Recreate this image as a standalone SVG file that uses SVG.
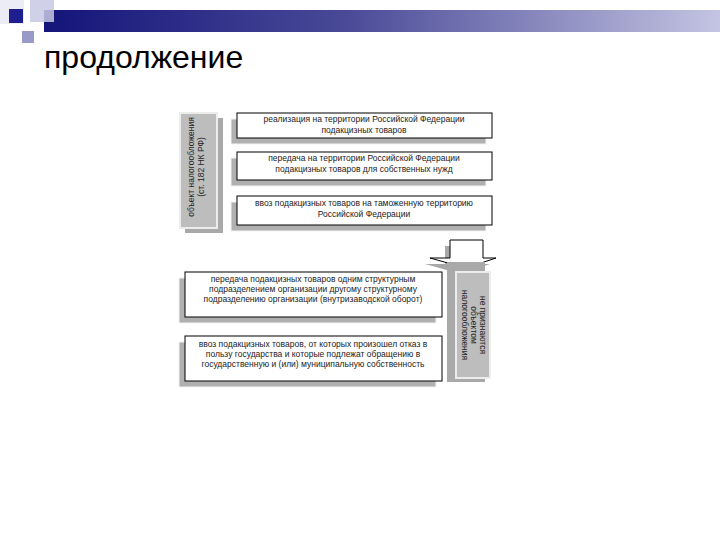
<svg xmlns="http://www.w3.org/2000/svg" width="720" height="540" viewBox="0 0 720 540">
<defs>
<linearGradient id="bar" x1="0" y1="0" x2="1" y2="0">
<stop offset="0" stop-color="#14147a"/>
<stop offset="0.45" stop-color="#4a4a98"/>
<stop offset="1" stop-color="#c4c4e2"/>
</linearGradient>
<style>
.t{font-family:"Liberation Sans",Arial,sans-serif;font-size:8.5px;fill:#222;text-anchor:middle}
.box{fill:#fff;stroke:#000;stroke-width:1}
.sh{fill:#b0b0b0;stroke:#f4f4f4;stroke-width:1}
.gbox{fill:#bdbdbd;stroke:#ececec;stroke-width:2}
</style>
</defs>
<rect width="720" height="540" fill="#fff"/>
<g id="decor">
<rect x="0" y="0" width="24" height="24" fill="#ececf6"/>
<rect x="44" y="10" width="676" height="22" fill="url(#bar)"/>
<rect x="30" y="0" width="24" height="22" fill="#c8c8e4" opacity="0.85"/>
<rect x="9" y="9" width="14" height="14" fill="#1e1e8e"/>
<rect x="22" y="31" width="12" height="12" fill="#9a9ac6"/>
</g>
<text x="44" y="68" font-family="Liberation Sans, Arial, sans-serif" font-size="32" fill="#000">продолжение</text>

<g id="connectors">
<polygon points="445,246 478,246 478,264 490,264 461,274 425,264 445,264" fill="#a8a8a8"/>
<polygon points="450,240 483,240 483,258 496,258 466,268 430,258 450,258" fill="#fff" stroke="#000" stroke-width="1"/>
</g>

<g id="object">
<rect x="185" y="118" width="38" height="115" fill="#a9a9a9"/>
<rect x="180" y="113" width="37" height="115" class="gbox"/>
<text class="t" font-size="8" transform="translate(194,167) rotate(-90)">объект налогообложения</text>
<text class="t" font-size="8" transform="translate(204,167) rotate(-90)">(ст. 182 НК РФ)</text>
</g>

<g id="n1">
<rect x="231" y="119" width="255" height="25" class="sh"/>
<rect x="237" y="113" width="255" height="25" class="box"/>
<text class="t" x="364" y="122">реализация на территории Российской Федерации</text>
<text class="t" x="364" y="133">подакцизных товаров</text>
</g>

<g id="n2">
<rect x="231" y="158" width="255" height="28" class="sh"/>
<rect x="237" y="152" width="255" height="28" class="box"/>
<text class="t" x="364" y="161">передача на территории Российской Федерации</text>
<text class="t" x="364" y="172">подакцизных товаров для собственных нужд</text>
</g>

<g id="n3">
<rect x="231" y="202" width="255" height="29" class="sh"/>
<rect x="237" y="196" width="255" height="29" class="box"/>
<text class="t" x="364" y="206">ввоз подакцизных товаров на таможенную территорию</text>
<text class="t" x="364" y="217">Российской Федерации</text>
</g>

<g id="n4">
<rect x="179" y="278" width="257" height="45" class="sh"/>
<rect x="185" y="272" width="257" height="45" class="box"/>
<text class="t" x="313" y="282">передача подакцизных товаров одним структурным</text>
<text class="t" x="313" y="292">подразделением организации другому структурному</text>
<text class="t" x="313" y="302">подразделению организации (внутризаводской оборот)</text>
</g>

<g id="n5">
<rect x="179" y="342" width="257" height="45" class="sh"/>
<rect x="185" y="336" width="257" height="45" class="box"/>
<text class="t" x="313" y="347">ввоз подакцизных товаров, от которых произошел отказ в</text>
<text class="t" x="313" y="357">пользу государства и которые подлежат обращению в</text>
<text class="t" x="313" y="367">государственную и (или) муниципальную собственность</text>
</g>

<g id="not-object">
<rect x="447" y="262" width="38" height="120" fill="#a9a9a9"/>
<rect x="456" y="272" width="34" height="106" class="gbox"/>
<text class="t" transform="translate(480,325) rotate(90)">не признаются</text>
<text class="t" transform="translate(471,325) rotate(90)">объектом</text>
<text class="t" transform="translate(462,325) rotate(90)">налогообложения</text>
</g>
</svg>
